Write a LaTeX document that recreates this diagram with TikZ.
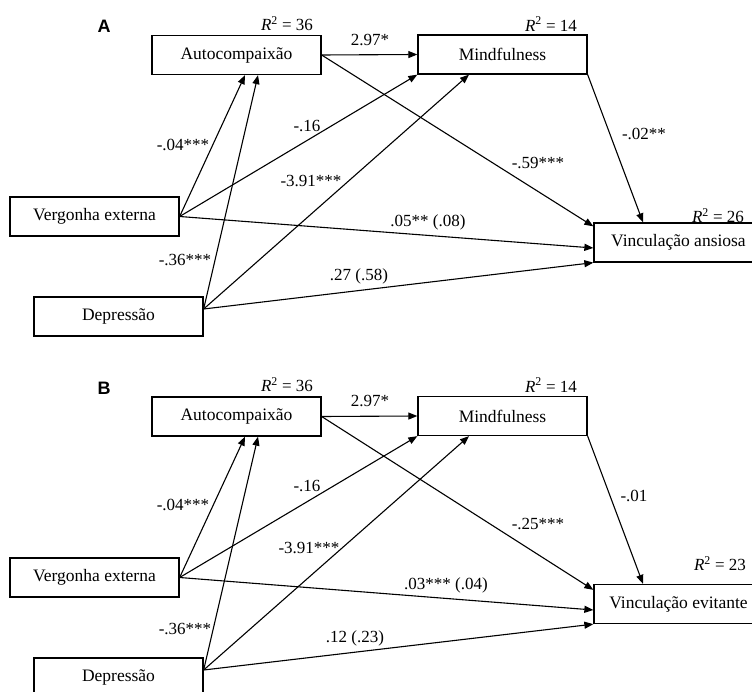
\documentclass[tikz,border=0pt]{standalone}
\usepackage{fontspec}
\setmainfont{Liberation Serif}
\newfontfamily\panelsans{Liberation Sans}
\usetikzlibrary{arrows.meta}
\begin{document}
\begin{tikzpicture}[x=1pt,y=-1pt,
  box/.style={draw,line width=1.3pt,minimum width=169pt,minimum height=39pt,inner sep=0pt,font=\fontsize{17.5}{20}\selectfont},
  lab/.style={inner sep=0pt,font=\fontsize{17}{20}\selectfont},
  arr/.style={line width=1.1pt,-{Triangle[length=9pt,width=7pt]}},
  panel/.style={inner sep=0pt,font=\panelsans\bfseries\fontsize{18}{20}\selectfont}]
\clip (0,0) rectangle (752,692);
\fill[white] (0,0) rectangle (752,692);

% ---------------- Panel A ----------------
\node[panel] (pA) at (104,26) {A};
\node[box] (autoA) at (236.5,55) {Autocompaixão};
\node[box] (mindA) at (502.5,54.5) {Mindfulness};
\node[box] (vergA) at (94.5,216.5) {Vergonha externa};
\node[box] (depA) at (118.5,316.5) {Depressão};
\node[box] (vincA) at (678.5,242.5) {Vinculação ansiosa};

\node[lab] (r1A) at (287,24) {\textit{R}\textsuperscript{2} = 36};
\node[lab] (r2A) at (551,24) {\textit{R}\textsuperscript{2} = 14};
\node[lab] (r3A) at (718,216) {\textit{R}\textsuperscript{2} = 26};

\draw[arr] (vergA.east) -- ([xshift=8.5pt]autoA.south);
\draw[arr] ([yshift=7.5pt]depA.east) -- ([xshift=21.5pt]autoA.south);
\draw[arr] (vergA.east) -- (mindA.south west);
\draw[arr] ([yshift=7.5pt]depA.east) -- ([xshift=-33.5pt]mindA.south);
\draw[arr] (autoA.east) -- (mindA.west);
\draw[arr] (autoA.east) -- ([yshift=-4pt]vincA.north west);
\draw[arr] (mindA.south east) -- ([xshift=-35.5pt]vincA.north);
\draw[arr] (vergA.east) -- ([yshift=-5.5pt]vincA.west);
\draw[arr] ([yshift=7.5pt]depA.east) -- (vincA.south west);

\node[lab] (l1A) at (370,40) {2.97*};
\node[lab] (l2A) at (183,145) {-.04***};
\node[lab] (l3A) at (307,126) {-.16};
\node[lab] (l4A) at (311,181) {-3.91***};
\node[lab] (l5A) at (538,163) {-.59***};
\node[lab] (l6A) at (644,134) {-.02**};
\node[lab] (l7A) at (428,222) {.05** (.08)};
\node[lab] (l8A) at (359,276) {.27 (.58)};
\node[lab] (l9A) at (185,260) {-.36***};

% ---------------- Panel B ----------------
\node[panel] (pB) at (104,388) {B};
\node[box] (autoB) at (236.5,416.5) {Autocompaixão};
\node[box] (mindB) at (502.5,416) {Mindfulness};
\node[box] (vergB) at (94.5,577.5) {Vergonha externa};
\node[box] (depB) at (118.5,677.5) {Depressão};
\node[box] (vincB) at (678.5,604) {Vinculação evitante};

\node[lab] (r1B) at (287,385) {\textit{R}\textsuperscript{2} = 36};
\node[lab] (r2B) at (551,385) {\textit{R}\textsuperscript{2} = 14};
\node[lab] (r3B) at (720,564) {\textit{R}\textsuperscript{2} = 23};

\draw[arr] (vergB.east) -- ([xshift=8.5pt]autoB.south);
\draw[arr] ([yshift=7.5pt]depB.east) -- ([xshift=21.5pt]autoB.south);
\draw[arr] (vergB.east) -- (mindB.south west);
\draw[arr] ([yshift=7.5pt]depB.east) -- ([xshift=-33.5pt]mindB.south);
\draw[arr] (autoB.east) -- (mindB.west);
\draw[arr] (autoB.east) -- ([yshift=-6pt]vincB.north west);
\draw[arr] (mindB.south east) -- ([xshift=-35.5pt]vincB.north);
\draw[arr] (vergB.east) -- ([yshift=-6pt]vincB.west);
\draw[arr] ([yshift=7.5pt]depB.east) -- (vincB.south west);

\node[lab] (l1B) at (370,401) {2.97*};
\node[lab] (l2B) at (183,505) {-.04***};
\node[lab] (l3B) at (307,486) {-.16};
\node[lab] (l4B) at (309,548) {-3.91***};
\node[lab] (l5B) at (538,524) {-.25***};
\node[lab] (l6B) at (634,496) {-.01};
\node[lab] (l7B) at (446,585) {.03*** (.04)};
\node[lab] (l8B) at (355,638) {.12 (.23)};
\node[lab] (l9B) at (185,629) {-.36***};
\end{tikzpicture}
\end{document}
